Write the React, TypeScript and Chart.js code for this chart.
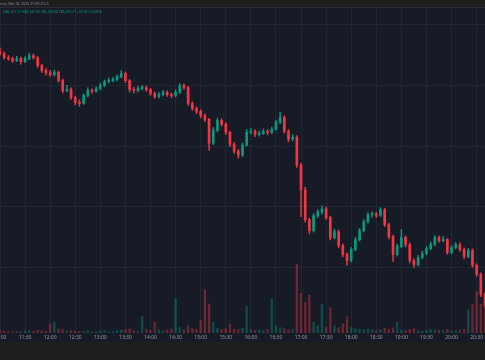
import React, { useEffect, useRef } from "react";
import { Chart, registerables } from "chart.js";

Chart.register(...registerables);

const TIMES = [
  "11:00","11:05","11:10","11:15","11:20","11:25","11:30","11:35","11:40","11:45","11:50","11:55",
  "12:00","12:05","12:10","12:15","12:20","12:25","12:30","12:35","12:40","12:45","12:50","12:55",
  "13:00","13:05","13:10","13:15","13:20","13:25","13:30","13:35","13:40","13:45","13:50","13:55",
  "14:00","14:05","14:10","14:15","14:20","14:25","14:30","14:35","14:40","14:45","14:50","14:55",
  "15:00","15:05","15:10","15:15","15:20","15:25","15:30","15:35","15:40","15:45","15:50","15:55",
  "16:00","16:05","16:10","16:15","16:20","16:25","16:30","16:35","16:40","16:45","16:50","16:55",
  "17:00","17:05","17:10","17:15","17:20","17:25","17:30","17:35","17:40","17:45","17:50","17:55",
  "18:00","18:05","18:10","18:15","18:20","18:25","18:30","18:35","18:40","18:45","18:50","18:55",
  "19:00","19:05","19:10","19:15","19:20","19:25","19:30","19:35","19:40","19:45","19:50","19:55",
  "20:00","20:05","20:10","20:15","20:20","20:25","20:30","20:35","20:40"
];

const TICK_LABELS = [
  "11:00","11:30","12:00","12:30","13:00","13:30","14:00","14:30","15:00","15:30",
  "16:00","16:30","17:00","17:30","18:00","18:30","19:00","19:30","20:00","20:30"
];

const OPENS = [
  91368, 91328, 91248, 91226, 91188, 91232, 91168, 91230, 91288, 91246,
  91088, 90988, 90946, 90908, 90952, 90788, 90586, 90610, 90448, 90346,
  90328, 90488, 90590, 90572, 90628, 90688, 90766, 90790, 90808, 90866,
  90928, 90786, 90608, 90588, 90630, 90648, 90606, 90528, 90468, 90510,
  90548, 90506, 90488, 90550, 90688, 90646, 90328, 90226, 90168, 90086,
  90008, 89528, 89788, 89986, 89908, 89748, 89506, 89368, 89286, 89488,
  89748, 89768, 89706, 89728, 89762, 89744, 89808, 89948, 90046, 89768,
  89606, 89648, 89088, 88588, 87986, 87768, 88068, 88146, 88208, 88028,
  87626, 87748, 87466, 87288, 87168, 87388, 87586, 87768, 87948, 88088,
  88104, 88076, 88188, 87888, 87646, 87288, 87448, 87628, 87486, 87168,
  87088, 87228, 87306, 87408, 87488, 87628, 87566, 87588, 87328, 87428,
  87486, 87388, 87246, 87368, 87068, 86888, 86488
];

const HIGHS = [
  91448, 91362, 91290, 91258, 91276, 91262, 91270, 91340, 91318, 91270,
  91120, 91030, 90990, 91000, 90980, 90820, 90690, 90640, 90470, 90400,
  90520, 90640, 90620, 90660, 90730, 90800, 90840, 90850, 90900, 90990,
  90960, 90810, 90650, 90670, 90690, 90680, 90630, 90560, 90550, 90590,
  90580, 90540, 90600, 90728, 90720, 90670, 90360, 90260, 90200, 90120,
  90030, 89840, 90030, 90020, 89940, 89770, 89540, 89400, 89530, 89800,
  89820, 89800, 89770, 89810, 89800, 89850, 89990, 90148, 90080, 89800,
  89700, 89680, 89120, 88640, 88020, 88110, 88190, 88260, 88240, 88060,
  87800, 87780, 87500, 87320, 87430, 87630, 87810, 87990, 88130, 88150,
  88140, 88230, 88220, 87920, 87680, 87490, 87790, 87660, 87520, 87200,
  87270, 87350, 87450, 87540, 87668, 87660, 87650, 87610, 87470, 87530,
  87520, 87420, 87410, 87400, 87100, 86920, 86520
];

const LOWS = [
  91300, 91220, 91196, 91150, 91170, 91120, 91148, 91210, 91220, 91050,
  90950, 90900, 90870, 90880, 90760, 90540, 90560, 90410, 90300, 90270,
  90310, 90460, 90530, 90550, 90600, 90660, 90740, 90760, 90780, 90840,
  90750, 90560, 90540, 90560, 90600, 90570, 90490, 90430, 90440, 90480,
  90470, 90440, 90460, 90530, 90610, 90290, 90190, 90120, 90040, 89960,
  89388, 89500, 89760, 89870, 89700, 89460, 89320, 89230, 89260, 89470,
  89710, 89660, 89670, 89700, 89700, 89720, 89790, 89920, 89730, 89560,
  89580, 89040, 88048, 87940, 87700, 87740, 88030, 88100, 87990, 87580,
  87600, 87420, 87240, 87068, 87140, 87360, 87560, 87740, 87920, 88040,
  88030, 88050, 87850, 87600, 87148, 87260, 87420, 87440, 87120, 87028,
  87060, 87200, 87280, 87380, 87460, 87530, 87540, 87290, 87300, 87400,
  87350, 87200, 87220, 87030, 86850, 86440, 86228
];

const CLOSES = [
  91328, 91248, 91226, 91188, 91232, 91168, 91230, 91288, 91246, 91088,
  90988, 90946, 90908, 90952, 90788, 90586, 90610, 90448, 90346, 90328,
  90488, 90590, 90572, 90628, 90688, 90766, 90790, 90808, 90866, 90928,
  90786, 90608, 90588, 90630, 90648, 90606, 90528, 90468, 90510, 90548,
  90506, 90488, 90550, 90688, 90646, 90328, 90226, 90168, 90086, 90008,
  89528, 89788, 89986, 89908, 89748, 89506, 89368, 89286, 89488, 89748,
  89768, 89706, 89728, 89762, 89744, 89808, 89948, 90046, 89768, 89606,
  89648, 89088, 88588, 87986, 87768, 88068, 88146, 88208, 88028, 87626,
  87748, 87466, 87288, 87168, 87388, 87586, 87768, 87948, 88088, 88104,
  88076, 88188, 87888, 87646, 87288, 87448, 87628, 87486, 87168, 87088,
  87228, 87306, 87408, 87488, 87628, 87566, 87588, 87328, 87428, 87486,
  87388, 87246, 87368, 87068, 86888, 86488, 86268
];

const VOLUMES = [
  14, 10, 8, 6, 10, 8, 12, 14, 10, 16,
  12, 10, 50, 60, 22, 18, 12, 14, 10, 8,
  8, 12, 6, 8, 10, 14, 6, 8, 12, 16,
  18, 22, 12, 10, 90, 22, 14, 60, 18, 12,
  16, 22, 190, 30, 18, 40, 26, 20, 70, 240,
  160, 60, 26, 20, 24, 50, 20, 18, 26, 150,
  20, 14, 18, 14, 20, 190, 40, 30, 24, 18,
  20, 380, 220, 170, 210, 60, 40, 160, 30, 140,
  40, 30, 50, 90, 30, 24, 20, 18, 22, 16,
  14, 18, 26, 20, 30, 60, 16, 14, 20, 24,
  12, 10, 14, 18, 16, 12, 14, 20, 10, 12,
  16, 20, 130, 160, 230, 160, 200
];

const GRID_PRICES = [91908, 90688, 89468, 88248, 87028];

const TITLE = "Bitcoin, Mar 06, 2025 21:09 UTC-5";
const OHLC_TEXT = "O86,321.77 H86,345.99 L86,200.00 C86,267.71 +55.95 (+0.06%)";

const UP = "#089981";
const DOWN = "#f23645";
const UP_VOL = "rgba(8,153,129,0.4)";
const DOWN_VOL = "rgba(242,54,69,0.4)";

export default function App() {
  const ref = useRef<HTMLCanvasElement>(null);

  useEffect(() => {
    const canvas = ref.current;
    if (!canvas) return;
    const isUp = CLOSES.map((c, i) => c >= OPENS[i]);
    const colors = isUp.map((u) => (u ? UP : DOWN));
    const volColors = isUp.map((u) => (u ? UP_VOL : DOWN_VOL));

    const bgPlugin = {
      id: "bgPlugin",
      beforeDraw(chart: any) {
        const ctx = chart.ctx;
        const w = chart.width;
        const h = chart.height;
        ctx.save();
        ctx.fillStyle = "#1e1e1e";
        ctx.fillRect(0, 0, w, h);
        ctx.fillStyle = "#171b26";
        ctx.fillRect(0, 7, w, 335);
        ctx.fillStyle = "#2a2e39";
        ctx.fillRect(0, 7, w, 1);
        ctx.restore();
      },
      afterDraw(chart: any) {
        const ctx = chart.ctx;
        ctx.save();
        ctx.font = '3.4px "Noto Sans"';
        ctx.fillStyle = "#8b8e97";
        ctx.textAlign = "right";
        ctx.textBaseline = "alphabetic";
        ctx.fillText(TITLE, 49, 4.5);
        ctx.textAlign = "left";
        ctx.textBaseline = "middle";
        ctx.font = '3.4px "Noto Sans"';
        ctx.fillStyle = UP;
        ctx.fillText(OHLC_TEXT, 3, 12.5, 99);
        ctx.restore();
      },
    };

    const chart = new Chart(canvas, {
      type: "bar",
      data: {
        labels: TIMES,
        datasets: [
          {
            label: "Bodies",
            data: OPENS.map((o, i) => [o, CLOSES[i]]),
            backgroundColor: colors,
            barThickness: 2,
            minBarLength: 1,
            grouped: false,
            yAxisID: "y",
            order: 1,
          } as any,
          {
            label: "Wicks",
            data: LOWS.map((l, i) => [l, HIGHS[i]]),
            backgroundColor: colors,
            barThickness: 0.8,
            grouped: false,
            yAxisID: "y",
            order: 2,
          } as any,
          {
            label: "Volume",
            data: VOLUMES,
            backgroundColor: volColors,
            barThickness: 1.6,
            grouped: false,
            yAxisID: "y2",
            order: 3,
          } as any,
        ],
      },
      options: {
        responsive: false,
        animation: false,
        devicePixelRatio: 1,
        layout: { autoPadding: false, padding: { top: 8, bottom: 18, left: 0, right: 0 } },
        plugins: { legend: { display: false }, tooltip: { enabled: false } },
        scales: {
          x: {
            type: "category",
            offset: false,
            border: { display: false },
            grid: { color: "#222632", offset: false, drawTicks: false },
            ticks: {
              autoSkip: false,
              maxRotation: 0,
              padding: 2,
              color: "rgba(178,181,190,0.8)",
              font: { size: 5, family: "Noto Sans" },
              callback: function (this: any, value: any) {
                const lab = TIMES[value as number];
                return TICK_LABELS.includes(lab) ? lab : null;
              },
            },
            afterFit: (s: any) => {
              s.height = 9;
              s.paddingLeft = 0;
              s.paddingRight = 0;
            },
          },
          y: {
            min: 85708,
            max: 92248,
            position: "left",
            border: { display: false },
            grid: { color: "#222632", drawTicks: false },
            ticks: { display: false },
            afterBuildTicks: (s: any) => {
              s.ticks = GRID_PRICES.map((v) => ({ value: v }));
            },
            afterFit: (s: any) => {
              s.width = 0;
              s.paddingTop = 0;
              s.paddingBottom = 0;
            },
          },
          y2: {
            display: false,
            min: 0,
            max: 1800,
          },
        },
      },
      plugins: [bgPlugin],
    });

    return () => chart.destroy();
  }, []);

  return (
    <div style={{ position: "absolute", left: 0, top: 0, width: 485, height: 360 }}>
      <canvas ref={ref} width={485} height={360} style={{ display: "block" }} />
    </div>
  );
}
